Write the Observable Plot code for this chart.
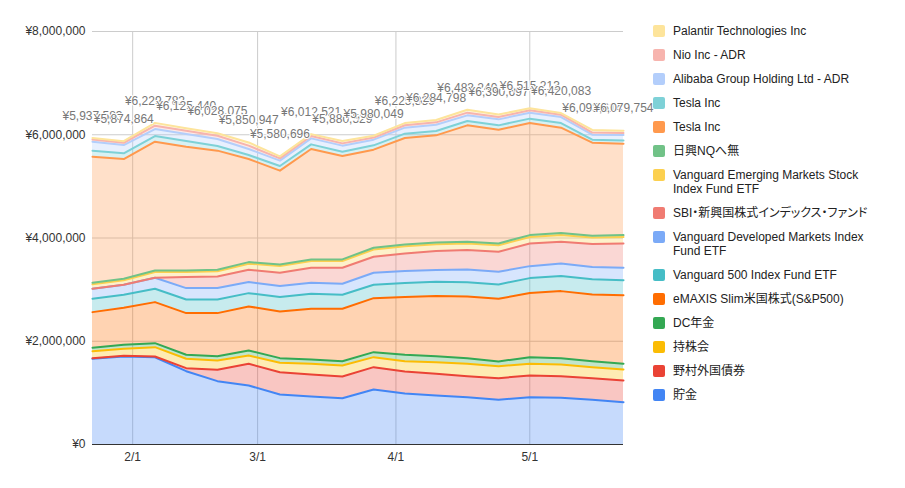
<!DOCTYPE html>
<html>
<head>
<meta charset="utf-8">
<script src="https://cdn.jsdelivr.net/npm/d3@7"></script>
<script src="https://cdn.jsdelivr.net/npm/@observablehq/plot@0.6"></script>
<style>
  html, body { margin: 0; padding: 0; background: #fff; }
  #wrap { position: relative; width: 905px; height: 488px; font-family: "Liberation Sans", Arial, "Noto Sans CJK JP", sans-serif; }
  #chart { position: absolute; left: 0; top: 0; }
  #legend { position: absolute; left: 653px; top: 24px; }
  .item { display: flex; align-items: flex-start; margin-bottom: 10px; }
  .sw { width: 12px; height: 12px; border-radius: 2px; margin-top: 1px; flex: none; }
  .lab { margin-left: 8px; width: 212px; font-size: 12px; line-height: 14px; color: #222; font-feature-settings: "palt"; }
</style>
</head>
<body>
<div id="wrap">
  <div id="chart"></div>
  <div id="legend"></div>
</div>
<script>
// Weekly snapshots of the portfolio (2021)
const dates = [
  "2021-01-23", "2021-01-30", "2021-02-06", "2021-02-13", "2021-02-20", "2021-02-27",
  "2021-03-06", "2021-03-13", "2021-03-20", "2021-03-27", "2021-04-03", "2021-04-10",
  "2021-04-17", "2021-04-24", "2021-05-01", "2021-05-08", "2021-05-15", "2021-05-22"
];

// Holdings, listed from the bottom of the stack upward
const seriesNames = [
  "貯金", "野村外国債券", "持株会", "DC年金", "eMAXIS Slim米国株式(S&P500)",
  "Vanguard 500 Index Fund ETF", "Vanguard Developed Markets Index Fund ETF",
  "SBI・新興国株式インデックス・ファンド", "Vanguard Emerging Markets Stock Index Fund ETF",
  "日興NQへ無", "Tesla Inc", "Tesla Inc", "Alibaba Group Holding Ltd - ADR",
  "Nio Inc - ADR", "Palantir Technologies Inc"
];

const seriesColors = [
  "#4285f4", "#ea4335", "#fbbc04", "#34a853", "#ff6d01",
  "#46bdc6", "#7baaf7", "#f07b72", "#fcd04f", "#71c287",
  "#ff994d", "#7ed1d7", "#b3cefb", "#f7b4ae", "#fde49b"
];

// Values in yen, one array per holding
const savings      = [1660000, 1705000, 1690000, 1420000, 1227000, 1143000, 969000, 930000, 897000, 1066000, 988000, 950000, 917000, 866000, 917000, 905000, 866000, 820000];
const nomuraBond   = [13000, 13000, 15000, 59000, 220000, 421000, 432000, 427000, 421000, 432000, 427000, 420000, 407000, 419000, 420000, 419000, 419000, 420000];
const esop         = [135000, 137000, 181000, 182000, 181000, 161000, 182000, 207000, 213000, 194000, 199000, 225000, 240000, 233000, 227000, 226000, 213000, 213000];
const dcPension    = [66000, 77000, 77000, 77000, 83000, 97000, 90000, 83000, 83000, 97000, 124000, 116000, 109000, 91000, 128000, 123000, 116000, 111000];
const emaxisSP500  = [690000, 717000, 795000, 807000, 834000, 852000, 905000, 983000, 1016000, 1046000, 1117000, 1164000, 1195000, 1215000, 1241000, 1298000, 1293000, 1329000];
const voo          = [260000, 252000, 259000, 265000, 265000, 258000, 277000, 290000, 271000, 260000, 271000, 278000, 277000, 277000, 290000, 291000, 296000, 291000];
const vea          = [193000, 194000, 213000, 220000, 220000, 214000, 213000, 214000, 213000, 232000, 233000, 225000, 246000, 246000, 232000, 246000, 233000, 240000];
const sbiEmerging  = [0, 0, 0, 213000, 226000, 239000, 259000, 290000, 310000, 310000, 343000, 368000, 375000, 387000, 440000, 420000, 446000, 471000];
const vwo          = [87000, 86000, 112000, 99000, 99000, 118000, 131000, 131000, 131000, 140000, 139000, 134000, 127000, 126000, 126000, 132000, 128000, 126000];
const nikkoNQ      = [30000, 30000, 30000, 30000, 30000, 30000, 30000, 30000, 30000, 35000, 35000, 35000, 35000, 35000, 35000, 35000, 35000, 35000];
const tesla        = [2441000, 2319000, 2494000, 2397000, 2307000, 1997000, 1816000, 2138000, 2002000, 1899000, 2060000, 2073000, 2254000, 2203000, 2171000, 2042000, 1802000, 1771000];
const tesla2       = [117000, 110000, 109000, 109000, 89000, 77000, 90000, 91000, 85000, 84000, 85000, 84000, 84000, 84000, 85000, 90000, 58000, 64000];
const alibaba      = [174000, 161000, 136000, 136000, 136000, 116000, 104000, 116000, 117000, 110000, 116000, 123000, 110000, 116000, 116000, 116000, 97000, 103000];
const nio          = [40000, 44000, 65000, 65000, 65000, 66000, 45000, 45000, 44000, 40000, 48000, 45000, 52000, 45000, 45000, 46000, 41000, 39000];
const palantir     = [31583, 29864, 53782, 46440, 46075, 61947, 37696, 37521, 47529, 35049, 40839, 44798, 55240, 47697, 42213, 31083, 50614, 46754];

const seriesValues = [
  savings, nomuraBond, esop, dcPension, emaxisSP500, voo, vea, sbiEmerging,
  vwo, nikkoNQ, tesla, tesla2, alibaba, nio, palantir
];

// Weekly portfolio totals, printed above each week
const totals = [5937583, 5874864, 6229782, 6125440, 6028075, 5850947, 5580696, 6012521, 5880529, 5980049, 6225839, 6284798, 6483240, 6390697, 6515213, 6420083, 6093614, 6079754];

// Axis ticks
const monthStarts = ["2021-02-01", "2021-03-01", "2021-04-01", "2021-05-01"];
const monthLabels = ["2/1", "3/1", "4/1", "5/1"];
const yTicks = [0, 2000000, 4000000, 6000000, 8000000];

// Long-format table for the stacked areas
const keys = seriesNames.map((_, i) => "s" + i);
const rows = [];
seriesValues.forEach((vals, s) => {
  vals.forEach((v, i) => rows.push({ date: new Date(dates[i]), key: keys[s], value: v }));
});

const totalRows = dates.map((d, i) => ({ date: new Date(dates[i]), total: totals[i] }));
const monthDates = monthStarts.map(d => new Date(d));
const monthLabelOf = new Map(monthDates.map((d, i) => [+d, monthLabels[i]]));
const yen = d3.format(",");

const chart = Plot.plot({
  width: 905,
  height: 488,
  marginLeft: 92,
  marginRight: 282,
  marginTop: 31,
  marginBottom: 44,
  style: {
    fontFamily: "'Liberation Sans', Arial, 'Noto Sans CJK JP', sans-serif",
    fontSize: "12px",
    color: "#333",
    background: "transparent",
    overflow: "visible"
  },
  x: {
    type: "utc",
    domain: [new Date(dates[0]), new Date(dates[dates.length - 1])],
    ticks: monthDates,
    tickFormat: d => monthLabelOf.get(+d),
    tickSize: 0,
    tickPadding: 8,
    label: null
  },
  y: {
    domain: [0, 8000000],
    ticks: yTicks,
    tickFormat: d => "¥" + yen(d),
    tickSize: 0,
    tickPadding: 7,
    label: null
  },
  color: { domain: keys, range: seriesColors },
  marks: [
    Plot.ruleX(monthDates, { stroke: "#cccccc", strokeWidth: 1 }),
    Plot.ruleY(yTicks.slice(1), { stroke: "#cccccc", strokeWidth: 1 }),
    Plot.areaY(rows, { x: "date", y: "value", z: "key", fill: "key", fillOpacity: 0.3 }),
    Plot.lineY(rows, Plot.stackY2({ x: "date", y: "value", z: "key", stroke: "key", strokeWidth: 2 })),
    Plot.ruleY([0], { stroke: "#333", strokeWidth: 1 }),
    Plot.text(totalRows, {
      x: "date",
      y: "total",
      text: d => "¥" + yen(d.total),
      dy: -22,
      fill: "#777",
      stroke: "white",
      strokeWidth: 2,
      fontSize: 12
    })
  ]
});
document.getElementById("chart").appendChild(chart);

// Legend, top of the stack first
const legend = document.getElementById("legend");
for (let s = seriesNames.length - 1; s >= 0; s--) {
  const item = document.createElement("div");
  item.className = "item";
  const sw = document.createElement("div");
  sw.className = "sw";
  sw.style.background = seriesColors[s];
  const lab = document.createElement("div");
  lab.className = "lab";
  lab.textContent = seriesNames[s];
  item.appendChild(sw);
  item.appendChild(lab);
  legend.appendChild(item);
}
</script>
</body>
</html>
